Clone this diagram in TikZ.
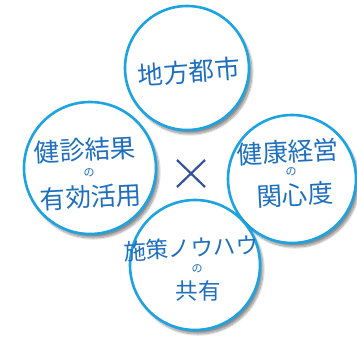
\documentclass[tikz,border=0pt]{standalone}
\usepackage{fontspec}
\setmainfont{Noto Sans CJK JP}
\usetikzlibrary{shadows.blur}
\definecolor{ring}{HTML}{1DA3E2}
\definecolor{txt}{HTML}{1F6FBF}
\definecolor{cross}{HTML}{34529E}
\tikzset{
  bubble/.style={circle, draw=ring, line width=2.6pt, fill=white, inner sep=0pt,
    blur shadow={shadow xshift=3pt, shadow yshift=-4pt, shadow blur steps=12, shadow opacity=45}},
  big/.style={font=\fontsize{25.5}{27}\selectfont, text=txt},
  mid/.style={font=\fontsize{22.5}{24}\selectfont, text=txt},
  small/.style={font=\fontsize{11}{12}\selectfont, text=txt},
}
\begin{document}
\begin{tikzpicture}[x=1pt,y=-1pt]
\useasboundingbox (0,0) rectangle (357,338);
\node[bubble, minimum size=124pt] (top) at (187,68) {};
\node[bubble, minimum size=132pt] (left) at (90,168) {};
\node[bubble, minimum size=128pt] (right) at (292,179) {};
\node[bubble, minimum size=130pt] (bottom) at (195,265) {};
% texts
\node[big, rotate=4] (t1) at (189,72) {地方都市};
\node[big, rotate=3] (l1) at (85,150) {健診結果};
\node[small] (l2) at (89,173) {の};
\node[big, rotate=3] (l3) at (91,197) {有効活用};
\node[big, rotate=3] (r1) at (288,152) {健康経営};
\node[small] (r2) at (291,172) {の};
\node[big, rotate=3] (r3) at (295,195) {関心度};
\node[mid, rotate=3] (b1) at (191,248) {施策ノウハウ};
\node[small] (b2) at (197,269) {の};
\node[mid] (b3) at (198,291) {共有};
% cross
\coordinate (c1) at (177,160);
\coordinate (c2) at (205,187);
\coordinate (c3) at (205,160);
\coordinate (c4) at (177,187);
\draw[cross, line width=2.2pt] (c1) -- (c2);
\draw[cross, line width=2.2pt] (c3) -- (c4);
\end{tikzpicture}
\end{document}
